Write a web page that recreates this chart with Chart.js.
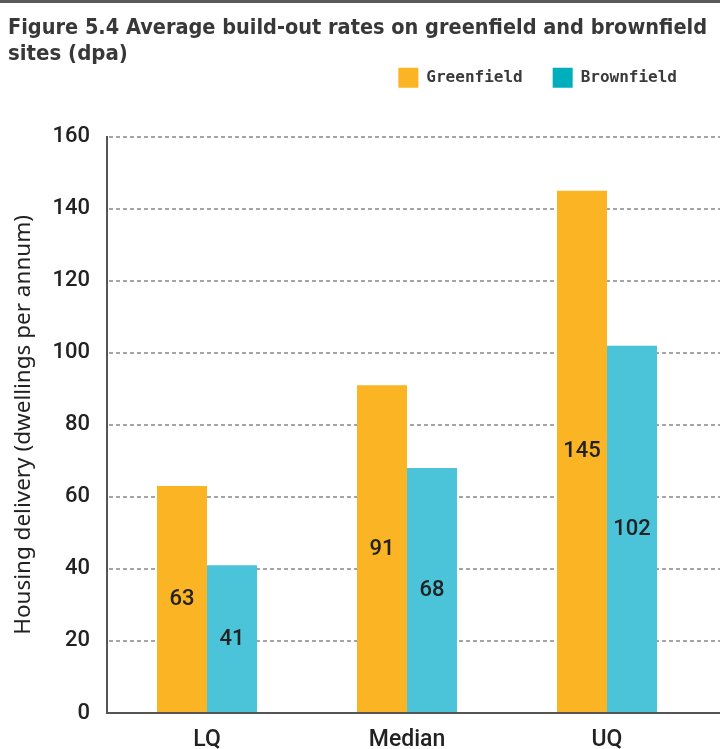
<!DOCTYPE html>
<html>
<head>
<meta charset="utf-8">
<title>Figure 5.4</title>
<script src="https://cdn.jsdelivr.net/npm/chart.js@4.4.0/dist/chart.umd.min.js"></script>
<style>
	html, body { margin: 0; padding: 0; background: #fff; }
	#wrap { width: 720px; height: 746px; border-top: 3px solid #5a5a5a; position: relative; }
</style>
</head>
<body>
<div id="wrap"><canvas id="chart"></canvas></div>
<script>
// 数据
const categories = ['LQ', 'Median', 'UQ'];
const greenfield = [63, 91, 145];
const brownfield = [41, 68, 102];
const yMin = 0;
const yMax = 160;
const yStep = 20;

const titleLines = ['Figure 5.4 Average build-out rates on greenfield and brownfield', 'sites (dpa)'];
const yTitle = 'Housing delivery (dwellings per annum)';

const orange = '#fbb423';
const teal = '#4bc4d9';
const tealLegend = '#00afbb';

// 虚线网格 + 横轴延伸到右边
const gridPlugin = {
	id: 'gridPlugin',
	beforeDatasetsDraw(chart) {
		const ctx = chart.ctx;
		const y = chart.scales.y;
		const left = chart.chartArea.left;
		ctx.save();
		ctx.strokeStyle = '#a5a5a5';
		ctx.lineWidth = 2;
		ctx.setLineDash([4, 3]);
		y.ticks.forEach(t => {
			if (t.value <= yMin) return;
			const py = Math.round(y.getPixelForValue(t.value));
			ctx.beginPath();
			ctx.moveTo(left + 2, py);
			ctx.lineTo(chart.width, py);
			ctx.stroke();
		});
		ctx.restore();
	},
	afterDatasetsDraw(chart) {
		const ctx = chart.ctx;
		const y = chart.scales.y;
		const py = Math.round(y.getPixelForValue(yMin));
		ctx.save();
		ctx.strokeStyle = '#555';
		ctx.lineWidth = 2;
		ctx.beginPath();
		ctx.moveTo(chart.chartArea.left, py);
		ctx.lineTo(chart.width, py);
		ctx.stroke();
		ctx.restore();
	}
};

// 柱内数值标签
const valuePlugin = {
	id: 'valuePlugin',
	afterDatasetsDraw(chart) {
		const ctx = chart.ctx;
		ctx.save();
		ctx.font = '500 22px Roboto';
		ctx.fillStyle = '#222';
		ctx.textAlign = 'center';
		ctx.textBaseline = 'middle';
		chart.data.datasets.forEach((ds, i) => {
			chart.getDatasetMeta(i).data.forEach((bar, j) => {
				ctx.fillText(ds.data[j], bar.x, (bar.y + bar.base) / 2);
			});
		});
		ctx.restore();
	}
};

const ctx = document.getElementById('chart').getContext('2d');
const chart = new Chart(ctx, {
	type: 'bar',
	data: {
		labels: categories,
		datasets: [
			{ label: 'Greenfield', data: greenfield, backgroundColor: orange, borderWidth: 0 },
			{ label: 'Brownfield', data: brownfield, backgroundColor: teal, borderWidth: 0 }
		]
	},
	plugins: [gridPlugin, valuePlugin],
	options: {
		responsive: true,
		maintainAspectRatio: false,
		animation: false,
		layout: { padding: { left: 8, right: 13, top: 0, bottom: 0 } },
		datasets: { bar: { barPercentage: 1, categoryPercentage: 0.5 } },
		plugins: {
			title: {
				display: true,
				text: titleLines,
				align: 'start',
				color: '#383838',
				font: { family: "'Liberation Sans Narrow', 'DejaVu Sans Condensed'", size: 22, weight: 'bold', lineHeight: 1.2 },
				padding: { top: 12, bottom: -30 }
			},
			legend: {
				display: true,
				position: 'top',
				align: 'end',
				labels: {
					boxWidth: 20,
					boxHeight: 20,
					padding: 30,
					color: '#3a3a3a',
					font: { family: 'DejaVu Sans Mono', size: 16, weight: 'bold' },
					generateLabels(chart) {
						const items = Chart.defaults.plugins.legend.labels.generateLabels(chart);
						items.forEach((it, i) => {
							it.fillStyle = i === 0 ? orange : tealLegend;
							it.strokeStyle = 'transparent';
							it.lineWidth = 0;
						});
						return items;
					}
				}
			},
			tooltip: { enabled: false }
		},
		scales: {
			x: {
				grid: { display: false, drawTicks: false },
				border: { display: false },
				ticks: { color: '#222', padding: 13, font: { family: 'Roboto', size: 23, weight: '500' } },
				afterFit(scale) { scale.height = 36; }
			},
			// 顶部空轴，只用来在图例和绘图区之间留空
			xTop: {
				type: 'category',
				position: 'top',
				grid: { display: false, drawTicks: false },
				border: { display: false },
				ticks: { display: false },
				afterFit(scale) { scale.height = 39; }
			},
			y: {
				min: yMin,
				max: yMax,
				grid: { display: false, drawTicks: false },
				border: { display: true, color: '#555', width: 2 },
				ticks: { stepSize: yStep, color: '#222', padding: 17, font: { family: 'Roboto', size: 22, weight: '500' } },
				title: {
					display: true,
					text: yTitle,
					color: '#222',
					font: { family: 'Noto Sans', size: 22.5 },
					padding: { top: 2, bottom: 0 }
				},
				afterFit(scale) { scale.width = 99; }
			}
		}
	}
});
</script>
</body>
</html>
